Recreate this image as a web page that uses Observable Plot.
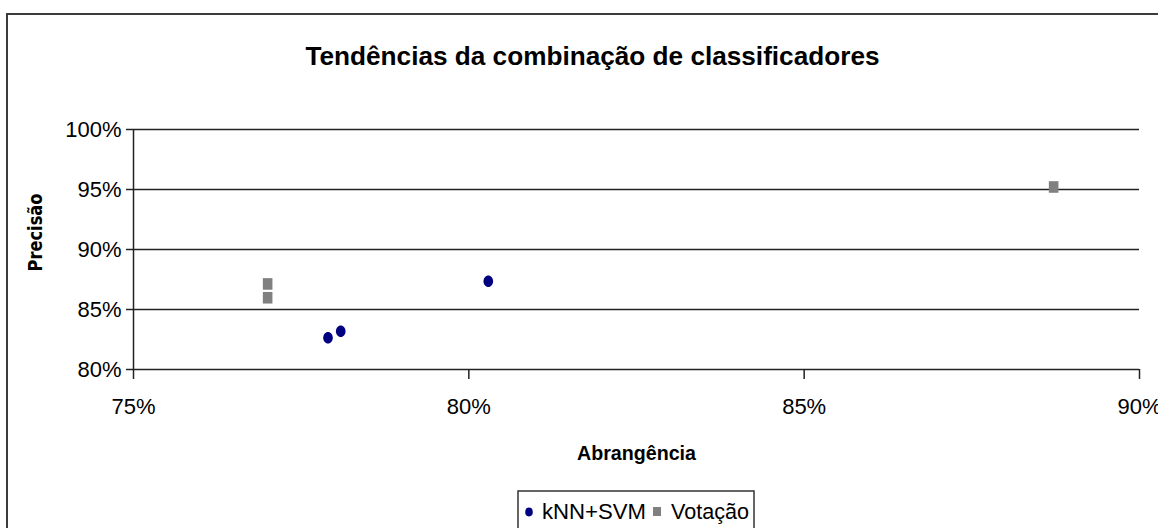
<!DOCTYPE html>
<html>
<head>
<meta charset="utf-8">
<script src="https://cdn.jsdelivr.net/npm/d3@7"></script>
<script src="https://cdn.jsdelivr.net/npm/@observablehq/plot@0.6"></script>
<style>
  html, body { margin: 0; padding: 0; background: #fff; }
  #wrap { position: relative; width: 1158px; height: 528px; overflow: hidden; background: #fff; }
  #wrap svg.main { position: absolute; left: 0; top: 0; }
  #border { position: absolute; left: 6px; top: 13px; width: 1200px; height: 600px; border: 2px solid #3c3c3c; pointer-events: none; }
  #legend { position: absolute; left: 517px; top: 490px; }
</style>
</head>
<body>
<div id="wrap"></div>
<script>
// ---- data ----
const title = "Tendências da combinação de classificadores";
const xLabel = "Abrangência";
const yLabel = "Precisão";
const seriesNames = ["kNN+SVM", "Votação"];
const knnRecall = [77.90, 78.09, 80.29];
const knnPrecision = [82.64, 83.19, 87.36];
const votoRecall = [77.00, 77.00, 88.72];
const votoPrecision = [87.13, 85.98, 95.21];
const xTicks = [75, 80, 85, 90];
const yTicks = [80, 85, 90, 95, 100];

const knn = knnRecall.map((x, i) => ({x, y: knnPrecision[i]}));
const voto = votoRecall.map((x, i) => ({x, y: votoPrecision[i]}));

// custom symbols (slightly tall marks as in the reference)
const ellipseSym = {
  draw(ctx) {
    const rx = 4.8, ry = 5.8, k = 0.5523;
    ctx.moveTo(rx, 0);
    ctx.bezierCurveTo(rx, ry * k, rx * k, ry, 0, ry);
    ctx.bezierCurveTo(-rx * k, ry, -rx, ry * k, -rx, 0);
    ctx.bezierCurveTo(-rx, -ry * k, -rx * k, -ry, 0, -ry);
    ctx.bezierCurveTo(rx * k, -ry, rx, -ry * k, rx, 0);
    ctx.closePath();
  }
};
const rectSym = {
  draw(ctx) {
    const w = 4.8, h = 5.8;
    ctx.moveTo(-w, -h); ctx.lineTo(w, -h); ctx.lineTo(w, h); ctx.lineTo(-w, h); ctx.closePath();
  }
};

const pct = d => d + "%";
const font = "'Liberation Sans', Arial, sans-serif";

const chart = Plot.plot({
  width: 1158,
  height: 528,
  marginLeft: 133,
  marginRight: 19,
  marginTop: 129,
  marginBottom: 159,
  style: {fontFamily: font, fontSize: "22px", color: "#000", background: "transparent", overflow: "visible"},
  x: {domain: [75, 90]},
  y: {domain: [80, 100]},
  marks: [
    Plot.gridY(yTicks.slice(1), {stroke: "#222", strokeOpacity: 1, strokeWidth: 1.5}),
    Plot.ruleY([80], {stroke: "#222", strokeWidth: 1.5}),
    Plot.ruleX([75], {y1: 80, y2: 100, stroke: "#222", strokeWidth: 1.5}),
    Plot.axisY(yTicks, {tickSize: 7, tickPadding: 5, tickFormat: pct, label: null, stroke: "#222", strokeWidth: 1.5}),
    Plot.axisX(xTicks, {tickSize: 10, tickPadding: 19, tickFormat: pct, label: null, stroke: "#222", strokeWidth: 1.5}),
    Plot.dot(voto, {x: "x", y: "y", symbol: rectSym, r: 5, fill: "#808080", stroke: null}),
    Plot.dot(knn, {x: "x", y: "y", symbol: ellipseSym, r: 5, fill: "#000080", stroke: null}),
    Plot.text([title], {frameAnchor: "top", dx: -44, dy: -73, lineAnchor: "middle", fontSize: 26, fontWeight: "bold", fill: "#000"}),
    Plot.text([xLabel], {frameAnchor: "bottom", dy: 84, lineAnchor: "middle", fontSize: 21, fontWeight: "bold", fill: "#000"}),
    Plot.text([yLabel], {frameAnchor: "left", textAnchor: "middle", dx: -98, dy: -17, rotate: -90, lineAnchor: "middle", fontSize: 20, fontWeight: "bold", fill: "#000", fontFamily: "'DejaVu Sans Condensed', 'DejaVu Sans', sans-serif"})
  ]
});
chart.classList.add("main");

const wrap = document.getElementById("wrap");
wrap.appendChild(chart);

// compress titles to the reference widths
const targetWidths = {[title]: 574, [xLabel]: 119, [yLabel]: 78};
chart.querySelectorAll("text").forEach(t => {
  const w = targetWidths[t.textContent];
  if (w) { t.setAttribute("textLength", w); t.setAttribute("lengthAdjust", "spacingAndGlyphs"); }
});

// border of the chart area
const border = document.createElement("div");
border.id = "border";
wrap.appendChild(border);

// legend
const ns = "http://www.w3.org/2000/svg";
const leg = document.createElementNS(ns, "svg");
leg.setAttribute("id", "legend");
leg.setAttribute("width", 240);
leg.setAttribute("height", 40);
leg.style.fontFamily = font;
const box = document.createElementNS(ns, "rect");
box.setAttribute("x", 1); box.setAttribute("y", 1);
box.setAttribute("width", 236); box.setAttribute("height", 60);
box.setAttribute("fill", "none"); box.setAttribute("stroke", "#333"); box.setAttribute("stroke-width", 1.5);
leg.appendChild(box);
const c = document.createElementNS(ns, "ellipse");
c.setAttribute("cx", 12); c.setAttribute("cy", 22); c.setAttribute("rx", 3.8); c.setAttribute("ry", 4.4);
c.setAttribute("fill", "#000080");
leg.appendChild(c);
const sq = document.createElementNS(ns, "rect");
sq.setAttribute("x", 136); sq.setAttribute("y", 17); sq.setAttribute("width", 8); sq.setAttribute("height", 9);
sq.setAttribute("fill", "#808080");
leg.appendChild(sq);
[[25, seriesNames[0], 104], [154, seriesNames[1], 78]].forEach(([x, s, w]) => {
  const t = document.createElementNS(ns, "text");
  t.setAttribute("x", x); t.setAttribute("y", 29);
  t.setAttribute("font-size", 22);
  t.setAttribute("textLength", w);
  t.setAttribute("lengthAdjust", "spacingAndGlyphs");
  t.textContent = s;
  leg.appendChild(t);
});
wrap.appendChild(leg);
</script>
</body>
</html>
